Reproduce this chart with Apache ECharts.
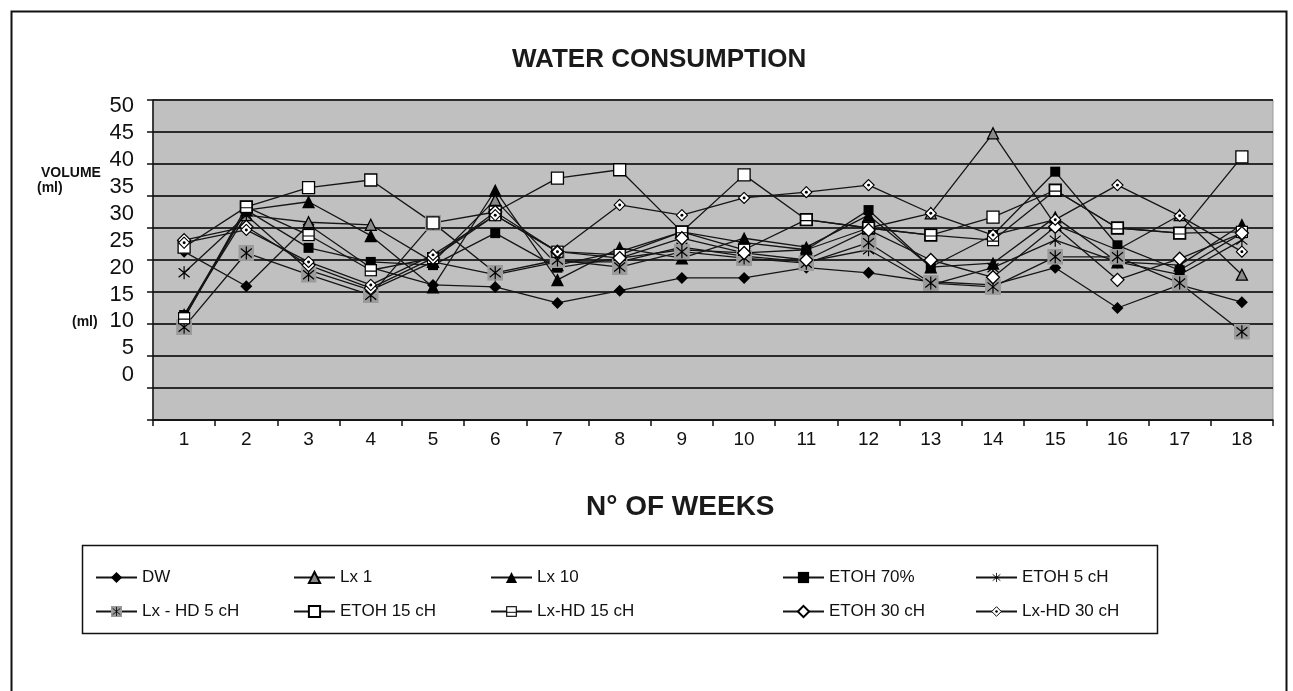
<!DOCTYPE html>
<html>
<head>
<meta charset="utf-8">
<title>Water consumption</title>
<script src="https://cdn.jsdelivr.net/npm/echarts@6/dist/echarts.min.js"></script>
<style>
  html, body { margin: 0; padding: 0; background: #fff; }
  #chart { width: 1293px; height: 691px; }
</style>
</head>
<body>
<div id="chart"></div>
<script>
// weeks on the x axis
const weeks = ['1', '2', '3', '4', '5', '6', '7', '8', '9', '10', '11', '12', '13', '14', '15', '16', '17', '18']
// y axis ticks (ml)
const yTicks = [0, 5, 10, 15, 20, 25, 30, 35, 40, 45, 50]

// volumes per group
const dw = [26.3, 20.9, 30.5, 23.8, 21.1, 20.8, 18.3, 20.2, 22.2, 22.2, 23.8, 23.0, 21.6, 21.1, 23.8, 17.5, 21.1, 18.4]
const lx1 = [16.4, 32.0, 30.9, 30.5, 24.7, 34.4, 24.2, 26.3, 29.4, 27.7, 26.6, 30.0, 32.3, 44.8, 30.5, 26.6, 32.0, 22.7]
const lx10 = [15.9, 32.8, 34.1, 28.8, 20.8, 35.9, 21.9, 26.9, 25.3, 28.4, 27.0, 32.0, 23.9, 24.5, 31.7, 24.7, 24.2, 30.5]
const etoh70 = [16.4, 32.8, 26.9, 24.7, 24.2, 29.2, 23.8, 25.3, 26.6, 26.1, 26.6, 32.8, 23.9, 28.9, 38.8, 27.3, 23.4, 29.2]
const etoh5 = [23.0, 32.0, 23.4, 20.3, 24.7, 22.7, 24.7, 24.7, 27.0, 25.6, 24.7, 26.6, 21.1, 23.8, 28.1, 24.7, 22.7, 28.1]
const lxhd5 = [14.5, 26.1, 22.7, 19.5, 30.8, 23.0, 25.0, 23.9, 26.3, 25.3, 24.5, 27.7, 21.4, 20.8, 25.5, 25.5, 21.4, 13.8]
const etoh15 = [27.0, 33.3, 36.3, 37.5, 30.8, 32.5, 37.8, 39.1, 29.4, 38.3, 31.3, 30.0, 28.9, 31.7, 35.9, 30.0, 29.2, 41.1]
const lxhd15 = [15.9, 33.3, 28.9, 23.4, 25.3, 32.0, 26.3, 25.8, 29.4, 26.6, 31.3, 30.0, 28.9, 28.1, 35.9, 30.0, 29.2, 29.4]
const etoh30 = [28.1, 30.2, 24.2, 20.6, 25.3, 32.5, 26.3, 25.3, 28.4, 26.1, 25.0, 29.7, 25.0, 22.3, 30.2, 21.9, 25.2, 29.2]
const lxhd30 = [27.7, 29.7, 24.7, 21.1, 25.8, 32.0, 26.3, 33.6, 32.0, 34.7, 35.6, 36.7, 32.3, 28.9, 31.3, 36.7, 31.9, 26.3]

// svg marker helper
const svg = (body, w, h) => 'image://data:image/svg+xml;charset=utf-8,' + encodeURIComponent(
  '<svg xmlns="http://www.w3.org/2000/svg" width="' + w + '" height="' + h + '" viewBox="0 0 ' + w + ' ' + h + '">' + body + '</svg>')

const star = '<path d="M8 1.5V14.5M2.5 3.5L13.5 12.5M13.5 3.5L2.5 12.5" stroke="#000" stroke-width="1.2" fill="none"/>'
const symStar = svg(star, 16, 16)
const symStarBox = svg('<rect width="16" height="16" fill="#9b9b9b"/>' + star, 16, 16)
const symBoxLine = svg('<rect x="1" y="1" width="12" height="12" fill="#fff" stroke="#000" stroke-width="1.4"/><path d="M1 8H13" stroke="#000" stroke-width="1.2"/>', 14, 14)
const symDiaDot = svg('<path d="M7 1L13 7L7 13L1 7Z" fill="#fff" stroke="#000" stroke-width="1.2"/><circle cx="7" cy="7" r="1.6" fill="#000"/>', 14, 14)

// the tick labels in the figure sit closer together than the grid lines
const labelShift = v => {
  const k = (50 - v) / 5
  return 6 - 5.1 * k
}
const yRich = {}
yTicks.forEach((v) => {
  const d = Math.round(labelShift(v) * 2)
  yRich['t' + v] = {
    fontSize: 22,
    color: '#111',
    fontFamily: 'Liberation Sans, Arial, sans-serif',
    padding: d > 0 ? [d, 0, 0, 0] : [0, 0, -d, 0]
  }
})

const mkSeries = (name, data, symbol, size, fill, border) => ({
  name: name,
  type: 'line',
  data: data,
  symbol: symbol,
  symbolSize: size,
  showAllSymbol: true,
  lineStyle: { color: '#151515', width: 1.3 },
  itemStyle: { color: fill, borderColor: border || fill, borderWidth: border ? 1.3 : 0 },
  emphasis: { disabled: true }
})

const series = [
  mkSeries('DW', dw, 'diamond', 12, '#000'),
  mkSeries('Lx 1', lx1, 'triangle', 11, '#8a8a8a', '#000'),
  mkSeries('Lx 10', lx10, 'triangle', 13, '#000'),
  mkSeries('ETOH 70%', etoh70, 'rect', 10, '#000'),
  mkSeries('ETOH 5 cH', etoh5, symStar, 16, '#000'),
  mkSeries('Lx - HD 5 cH', lxhd5, symStarBox, 16, '#9b9b9b'),
  mkSeries('ETOH 15 cH', etoh15, 'rect', 12, '#fff', '#000'),
  mkSeries('Lx-HD 15 cH', lxhd15, symBoxLine, 13, '#fff'),
  mkSeries('ETOH 30 cH', etoh30, 'diamond', 13, '#fff', '#000'),
  mkSeries('Lx-HD 30 cH', lxhd30, symDiaDot, 13, '#fff')
]

const names = series.map(s => s.name)
const legendCols = [95, 293, 490, 782, 975]
const legends = legendCols.map((x, i) => ({
  left: x,
  top: 569,
  orient: 'vertical',
  padding: 0,
  itemWidth: 41,
  itemHeight: 14,
  itemGap: 17,
  selectedMode: false,
  textStyle: { fontSize: 17, color: '#111', fontFamily: 'Liberation Sans, Arial, sans-serif' },
  data: [names[i], names[i + 5]]
}))

const chart = echarts.init(document.getElementById('chart'))
chart.setOption({
  animation: false,
  backgroundColor: '#fff',
  textStyle: { fontFamily: 'Liberation Sans, Arial, sans-serif' },
  title: [
    {
      text: 'WATER CONSUMPTION',
      left: 512,
      top: 47,
      padding: 0,
      textStyle: { fontSize: 26, fontWeight: 'bold', color: '#1a1a1a' }
    },
    {
      text: 'N° OF WEEKS',
      left: 586,
      top: 493,
      padding: 0,
      textStyle: { fontSize: 28, fontWeight: 'bold', color: '#1a1a1a' }
    }
  ],
  legend: legends,
  grid: {
    left: 153,
    right: 20,
    top: 100,
    bottom: 271,
    show: true,
    backgroundColor: '#c0c0c0',
    borderColor: '#9a9a9a',
    borderWidth: 1
  },
  xAxis: {
    type: 'category',
    data: weeks,
    boundaryGap: true,
    axisLine: { lineStyle: { color: '#111', width: 1.5 } },
    axisTick: { show: true, length: 6, lineStyle: { color: '#111', width: 1.5 } },
    axisLabel: { fontSize: 19, color: '#111', margin: 10 },
    splitLine: { show: false }
  },
  yAxis: {
    type: 'value',
    min: 0,
    max: 50,
    interval: 5,
    axisLine: { show: true, lineStyle: { color: '#111', width: 1.5 } },
    axisTick: { show: true, length: 6, lineStyle: { color: '#111', width: 1.5 } },
    axisLabel: {
      margin: 19,
      formatter: v => '{t' + v + '|' + v + '}',
      rich: yRich
    },
    splitLine: { lineStyle: { color: '#2b2b2b', width: 2 } }
  },
  graphic: [
    // outer frame
    { type: 'rect', left: 9, top: 9, shape: { width: 1275, height: 700 }, style: { fill: 'none', stroke: '#111', lineWidth: 2 }, silent: true },
    // legend box
    { type: 'rect', left: 80, top: 543, shape: { width: 1075, height: 88 }, style: { fill: 'none', stroke: '#111', lineWidth: 1.5 }, silent: true },
    { type: 'text', left: 41, top: 166, style: { text: 'VOLUME', font: 'bold 14px "Liberation Sans", Arial, sans-serif', fill: '#111' } },
    { type: 'text', left: 37, top: 181, style: { text: '(ml)', font: 'bold 14px "Liberation Sans", Arial, sans-serif', fill: '#111' } },
    { type: 'text', left: 72, top: 315, style: { text: '(ml)', font: 'bold 14px "Liberation Sans", Arial, sans-serif', fill: '#111' } }
  ],
  series: series
})
</script>
</body>
</html>
